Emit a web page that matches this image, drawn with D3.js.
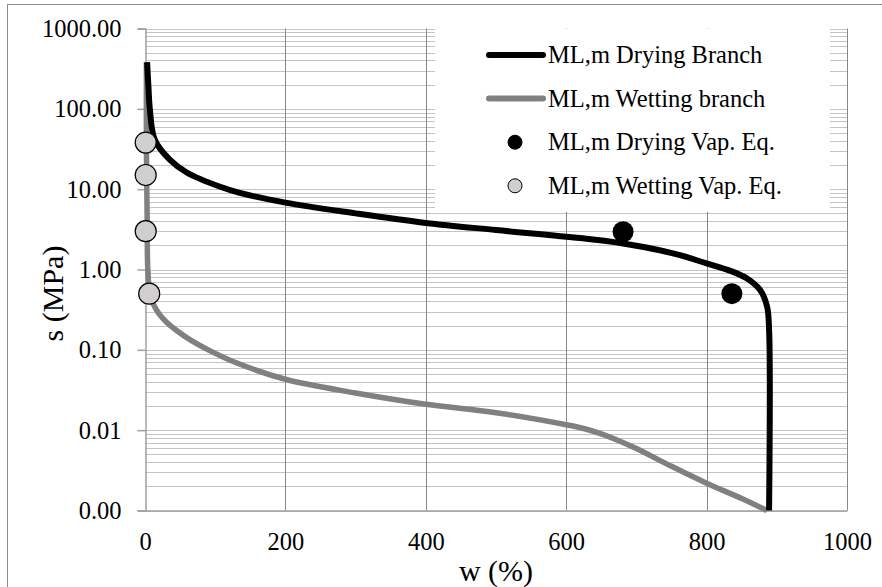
<!DOCTYPE html>
<html>
<head>
<meta charset="utf-8">
<script src="https://cdn.jsdelivr.net/npm/d3@7"></script>
<style>
  body { margin: 0; background: #fff; }
  text { font-family: "Liberation Serif", serif; fill: #000; }
</style>
</head>
<body>
<svg id="chart"></svg>
<script>
const width = 882;
const height = 587;

// Drying branch (w %, s MPa)
const dryW = [3, 5, 7, 14, 36, 60, 107, 135, 200, 300, 400, 500, 620, 681, 714, 762, 800, 834, 857, 876, 886, 889, 889];
const dryS = [380, 180, 97, 41, 23, 16, 10.7, 9.0, 6.8, 5.0, 3.8, 3.1, 2.46, 2.11, 1.88, 1.51, 1.19, 0.96, 0.78, 0.56, 0.35, 0.18, 0.001];

// Wetting branch
const wetW = [2, 2, 3, 4, 7, 12, 20, 30, 45, 65, 90, 130, 200, 300, 400, 500, 600, 625, 650, 675, 700, 750, 800, 850, 886];
const wetS = [380, 30, 5, 1.0, 0.5, 0.37, 0.28, 0.224, 0.174, 0.132, 0.1, 0.069, 0.043, 0.029, 0.021, 0.0165, 0.0117, 0.0105, 0.009, 0.0074, 0.0059, 0.00355, 0.00219, 0.00141, 0.001];

// Vapour equilibrium points
const dryEqW = [681, 836];
const dryEqS = [2.95, 0.5];
const wetEqW = [1, 1, 1, 6];
const wetEqS = [38, 15, 3, 0.5];

const xTicks = [0, 200, 400, 600, 800, 1000];
const yTicks = [0.001, 0.01, 0.1, 1, 10, 100, 1000];

const legendLabels = [
  "ML,m Drying Branch",
  "ML,m Wetting branch",
  "ML,m Drying Vap. Eq.",
  "ML,m Wetting Vap. Eq."
];

const svg = d3.select("#chart").attr("width", width).attr("height", height);

// outer chart border
svg.append("rect")
  .attr("x", 7.5).attr("y", 4.5)
  .attr("width", 1000).attr("height", 1000)
  .attr("fill", "none").attr("stroke", "#8c8c8c");

const x = d3.scaleLinear().domain([0, 1000]).range([145, 847]);
const y = d3.scaleLog().domain([0.001, 1000]).range([510.5, 28.5]);

// minor + major horizontal grid
const hLines = [];
for (let e = -3; e < 3; e++) {
  for (let m = 1; m <= 9; m++) hLines.push(m * Math.pow(10, e));
}
hLines.push(1000);
svg.append("g")
  .selectAll("line")
  .data(hLines)
  .join("line")
  .attr("x1", x(0)).attr("x2", x(1000))
  .attr("y1", d => Math.round(y(d)) + 0.5)
  .attr("y2", d => Math.round(y(d)) + 0.5)
  .attr("stroke", "#c4c4c4");

// vertical grid
svg.append("g")
  .selectAll("line")
  .data(xTicks.slice(1))
  .join("line")
  .attr("x1", d => Math.round(x(d)) + 0.5)
  .attr("x2", d => Math.round(x(d)) + 0.5)
  .attr("y1", y(1000)).attr("y2", y(0.001))
  .attr("stroke", "#888");

// axes
const fmt = d3.format(".2f");
const yAxis = svg.append("g")
  .attr("transform", `translate(${x(0) + 0.5},0)`)
  .call(d3.axisLeft(y).tickValues(yTicks).tickSize(8).tickPadding(16).tickFormat(fmt));
const xAxis = svg.append("g")
  .attr("transform", `translate(0,${y(0.001)})`)
  .call(d3.axisBottom(x).tickValues(xTicks).tickSize(0).tickPadding(22).tickFormat(d3.format("d")));
[yAxis, xAxis].forEach(a => {
  a.selectAll("path,line").attr("stroke", "#a0a0a0").attr("stroke-width", 1.5);
  a.selectAll("text").style("font-size", "24.5px").attr("font-family", null);
});

// curves
const line = d3.line()
  .x(d => x(d[0]))
  .y(d => y(d[1]))
  .curve(d3.curveCatmullRom.alpha(0.5));

svg.append("path")
  .datum(wetW.map((w, i) => [w, wetS[i]]))
  .attr("d", line)
  .attr("fill", "none").attr("stroke", "#808080").attr("stroke-width", 5.5);

svg.append("path")
  .datum(dryW.map((w, i) => [w, dryS[i]]))
  .attr("d", line)
  .attr("fill", "none").attr("stroke", "#000").attr("stroke-width", 6);

// points
svg.append("g")
  .selectAll("circle")
  .data(dryEqW.map((w, i) => [w, dryEqS[i]]))
  .join("circle")
  .attr("cx", d => x(d[0])).attr("cy", d => y(d[1]))
  .attr("r", 10.5).attr("fill", "#000");

svg.append("g")
  .selectAll("circle")
  .data(wetEqW.map((w, i) => [w, wetEqS[i]]))
  .join("circle")
  .attr("cx", d => x(d[0])).attr("cy", d => y(d[1]))
  .attr("r", 10.5).attr("fill", "#d0cece").attr("stroke", "#000").attr("stroke-width", 1.2);

// legend
const lg = svg.append("g");
lg.append("rect")
  .attr("x", 435).attr("y", 29).attr("width", 395).attr("height", 183)
  .attr("fill", "#fff");
legendLabels.forEach((label, i) => {
  const cy = 55 + i * 43.6;
  if (i < 2) {
    lg.append("line")
      .attr("x1", 489).attr("x2", 543).attr("y1", cy).attr("y2", cy)
      .attr("stroke", i === 0 ? "#000" : "#808080")
      .attr("stroke-width", 6).attr("stroke-linecap", "round");
  } else {
    lg.append("circle")
      .attr("cx", 515).attr("cy", cy).attr("r", 7)
      .attr("fill", i === 2 ? "#000" : "#d0cece")
      .attr("stroke", "#000").attr("stroke-width", 1);
  }
  lg.append("text")
    .attr("x", 548).attr("y", cy + 8)
    .style("font-size", "24.5px")
    .text(label);
});

// axis titles
svg.append("text")
  .attr("x", x(500)).attr("y", 581)
  .attr("text-anchor", "middle")
  .style("font-size", "30px")
  .text("w (%)");

svg.append("text")
  .attr("transform", `translate(63,${y(1) + 24}) rotate(-90)`)
  .attr("text-anchor", "middle")
  .style("font-size", "30px")
  .text("s (MPa)");
</script>
</body>
</html>
